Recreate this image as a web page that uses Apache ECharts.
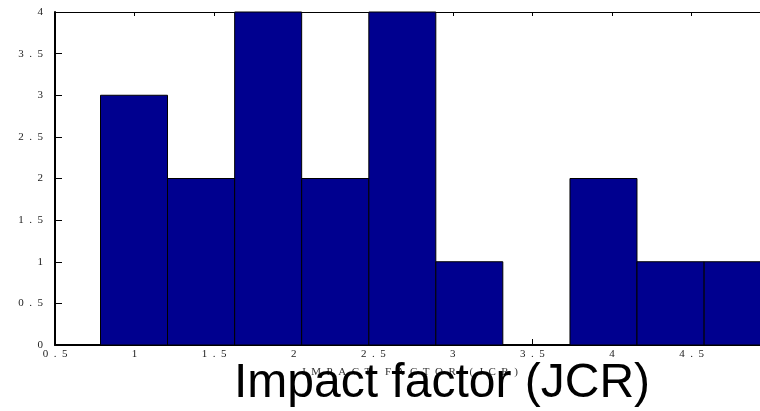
<!DOCTYPE html>
<html>
<head>
<meta charset="utf-8">
<script src="https://cdn.jsdelivr.net/npm/echarts@6/dist/echarts.min.js"></script>
<style>html,body{margin:0;padding:0;background:#fff}#c{width:760px;height:411px}</style>
</head>
<body>
<div id="c"></div>
<script>
// Histogram bin edges (impact factor) and counts per bin
var binEdges = [0.786, 1.207, 1.629, 2.050, 2.472, 2.893, 3.314, 3.736, 4.157, 4.579, 5.000];
var counts = [3, 2, 4, 2, 4, 1, 0, 2, 1, 1];
var xTicks = [0.5, 1, 1.5, 2, 2.5, 3, 3.5, 4, 4.5];
var xMin = 0.5, xMax = 4.93;
var smallTitle = 'IMPACT FACTOR (JCR)';
var bigTitle = 'Impact factor (JCR)';

var SP = '\u2002';
function spaced(s) { return String(s).split('').join(SP); }

var bins = counts.map(function (c, i) { return [binEdges[i], binEdges[i + 1], c]; });

var chart = echarts.init(document.getElementById('c'));
var serif = 'Liberation Serif';
var lbl = { fontFamily: serif, fontSize: 11, color: '#222' };
chart.setOption({
  animation: false,
  grid: { left: 55, top: 12, height: 333, width: 705, containLabel: false },
  xAxis: [{
    type: 'value', min: xMin, max: xMax, interval: 0.5,
    axisLine: { show: true, lineStyle: { color: '#000', width: 2 } },
    axisTick: { show: true, inside: true, length: 6, lineStyle: { color: '#000' } },
    axisLabel: Object.assign({ margin: 4, showMaxLabel: false, formatter: function (v) { return xTicks.indexOf(v) < 0 ? '' : spaced(v); } }, lbl),
    splitLine: { show: false }
  }, {
    type: 'value', position: 'top', min: xMin, max: xMax, interval: 0.5,
    axisLine: { show: true, lineStyle: { color: '#000', width: 1 } },
    axisTick: { show: true, inside: true, length: 4, lineStyle: { color: '#000' } },
    axisLabel: { show: false },
    splitLine: { show: false }
  }],
  yAxis: {
    type: 'value', min: 0, max: 4, interval: 0.5,
    axisLine: { show: true, lineStyle: { color: '#000', width: 2 } },
    axisTick: { show: true, inside: true, length: 7, lineStyle: { color: '#000' } },
    axisLabel: Object.assign({ margin: 12, formatter: function (v) { return spaced(v); } }, lbl),
    splitLine: { show: false }
  },
  series: [{
    type: 'custom',
    clip: false,
    data: bins,
    encode: { x: [0, 1], y: 2 },
    renderItem: function (params, api) {
      var p0 = api.coord([api.value(0), 0]);
      var p1 = api.coord([api.value(1), api.value(2)]);
      return {
        type: 'rect',
        shape: { x: p0[0], y: p1[1], width: p1[0] - p0[0], height: p0[1] - p1[1] },
        style: { fill: '#00008F', stroke: '#000', lineWidth: 1 }
      };
    }
  }],
  graphic: [{
    type: 'text',
    style: {
      text: spaced(smallTitle), x: 410, y: 372,
      fontFamily: serif, fontSize: 11, fill: '#333',
      textAlign: 'center', textVerticalAlign: 'middle'
    }
  }, {
    type: 'text',
    style: {
      text: bigTitle, x: 442, y: 384,
      fontFamily: 'Liberation Sans', fontSize: 48, fill: '#000',
      textAlign: 'center', textVerticalAlign: 'middle'
    }
  }]
});
</script>
</body>
</html>
